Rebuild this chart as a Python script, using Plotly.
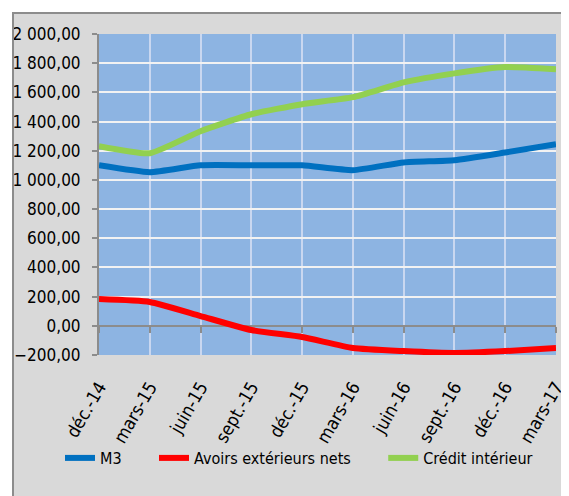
import plotly.graph_objects as go

categories = ["déc.-14", "mars-15", "juin-15", "sept.-15", "déc.-15",
              "mars-16", "juin-16", "sept.-16", "déc.-16", "mars-17"]
m3 = [1100, 1053, 1100, 1100, 1100, 1067, 1120, 1135, 1188, 1245]
avoirs = [183, 163, 67, -29, -77, -152, -173, -186, -173, -152]
credit = [1231, 1183, 1334, 1450, 1519, 1567, 1668, 1730, 1773, 1758]
y_ticks = [-200, 0, 200, 400, 600, 800, 1000, 1200, 1400, 1600, 1800, 2000]

FAMILY = "DejaVu Sans Condensed, DejaVu Sans, sans-serif"
try:
    go.layout.Font(stretch="condensed")
    HAS_STRETCH = True
except Exception:
    HAS_STRETCH = False


def fnt(size, **kw):
    d = dict(family=FAMILY, size=size, color="black", **kw)
    if HAS_STRETCH:
        d["stretch"] = "condensed"
    return d


# page is 569x496; the html body has an 8px margin
OFF = 8
W, H = 569 - OFF, 496 - OFF
# plot area in page pixels: x 99..556, y 34..355
PL, PR, PT, PB = 99, 556, 34, 355
L, T = PL - OFF, PT - OFF
R, B = W - (PR - OFF), H - (PB - OFF)
pw, ph = PR - PL, PB - PT


def px_x(x):
    return (x - PL) / pw


def px_y(y):
    return (PB - y) / ph


fig = go.Figure()

# invisible helper trace so the category axis crossing at 0 is drawn
fig.add_trace(go.Scatter(
    x=[0, len(categories) - 1], y=[0, 0], xaxis="x2", yaxis="y",
    mode="lines", line=dict(width=0), opacity=0, showlegend=False,
    hoverinfo="skip",
))

series = [("M3", m3, "#0070c0"),
          ("Avoirs extérieurs nets", avoirs, "#ff0000"),
          ("Crédit intérieur", credit, "#92d050")]
for name, vals, col in series:
    fig.add_trace(go.Scatter(
        x=categories, y=vals, name=name + "\u00a0" * 6, mode="lines",
        line=dict(color=col, width=6, shape="spline", smoothing=0.5),
    ))

fig.update_layout(
    width=W, height=H,
    margin=dict(l=L, r=R, t=T, b=B, autoexpand=False),
    paper_bgcolor="#d9d9d9",
    plot_bgcolor="#8db4e2",
    separators=", ",
    font=fnt(16),
    showlegend=True,
    legend=dict(orientation="h", x=px_x(60), xanchor="left",
                y=px_y(458), yanchor="middle",
                font=fnt(16), bgcolor="rgba(0,0,0,0)",
                itemwidth=30, tracegroupgap=0),
    xaxis=dict(type="category", categoryorder="array", categoryarray=categories,
               range=[0, len(categories) - 1], showgrid=True,
               gridcolor="#c9d7f0", gridwidth=1.5, showline=False,
               ticks="", tickangle=-60, ticklabelstandoff=17,
               tickfont=fnt(18), automargin=False),
    xaxis2=dict(overlaying="x", anchor="free", position=200 / 2200,
                range=[0, len(categories) - 1], dtick=1, showgrid=False,
                showline=True, linecolor="#8c8c8c", linewidth=2,
                ticks="outside", ticklen=6, tickwidth=2, tickcolor="#8c8c8c",
                showticklabels=False, zeroline=False, layer="below traces"),
    yaxis=dict(range=[-200, 2000], tickvals=y_ticks, tickformat=",.2f",
               showgrid=True, gridcolor="#f2f2f2", gridwidth=2,
               zeroline=False, showline=True, linecolor="#8c8c8c",
               linewidth=2, ticks="outside", ticklen=5, tickwidth=2,
               tickcolor="#8c8c8c", ticklabelstandoff=8,
               tickfont=fnt(17), automargin=False),
    shapes=[
        dict(type="rect", xref="paper", yref="paper",
             x0=px_x(-20), x1=px_x(600), y0=px_y(13), y1=px_y(-20),
             fillcolor="white", line=dict(width=0)),
        dict(type="rect", xref="paper", yref="paper",
             x0=px_x(-20), x1=px_x(13), y0=px_y(520), y1=px_y(-20),
             fillcolor="white", line=dict(width=0)),
        dict(type="line", xref="paper", yref="paper",
             x0=px_x(12), x1=px_x(600), y0=px_y(13), y1=px_y(13),
             line=dict(color="#8c8c8c", width=2)),
        dict(type="line", xref="paper", yref="paper",
             x0=px_x(13), x1=px_x(13), y0=px_y(12), y1=px_y(520),
             line=dict(color="#8c8c8c", width=2)),
    ],
)

fig.write_html("out.html")
